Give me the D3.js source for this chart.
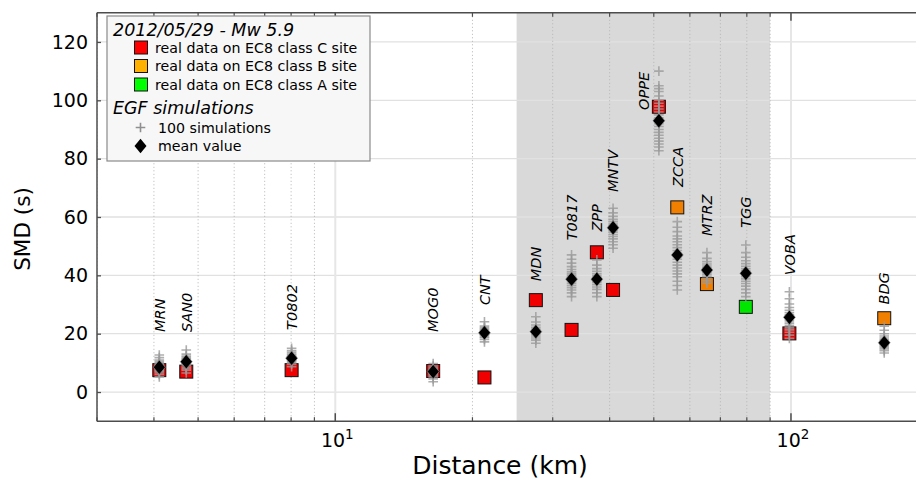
<!DOCTYPE html>
<html><head><meta charset="utf-8">
<script src="https://cdn.jsdelivr.net/npm/d3@7"></script>
<style>
body{margin:0;background:#fff}
svg{display:block}
text{font-family:"DejaVu Sans",sans-serif;fill:#000}
</style>
</head><body>
<svg id="chart" width="916" height="481"></svg>
<script>
// ---------------- data ----------------
const stations   = ["MRN","SAN0","T0802","MOG0","CNT","MDN","T0817","ZPP","MNTV","OPPE","ZCCA","MTRZ","TGG","VOBA","BDG"];
const distances  = [4.11, 4.71, 8.02, 16.4, 21.25, 27.55, 33.0, 37.5, 40.7, 51.3, 56.3, 65.4, 79.6, 99.2, 160.2];
const realSMD    = [7.5, 7.0, 7.5, 7.2, 5.0, 31.5, 21.3, 47.9, 35.0, 97.8, 63.3, 37.0, 29.2, 20.1, 25.3];
const siteClass  = ["C","C","C","C","C","C","C","C","C","C","B","B","A","C","B"];
const meanSim    = [8.5, 10.4, 11.6, 7.0, 20.3, 20.7, 38.7, 38.7, 56.3, 93.0, 47.0, 41.8, 40.7, 25.6, 16.9];
const labelY     = [20.6, 20.6, 21.3, 20.6, 29.8, 38, 52, 55, 68.6, 96.7, 70.3, 53.5, 56.3, 40, 30];
const labelDist  = [4.11, 4.71, 8.02, 16.4, 21.25, 27.55, 33.0, 37.5, 40.7, 47.5, 56.3, 65.4, 79.6, 99.2, 160.2];
const simValues  = [
  [5.2,6,6.5,7,7.3,7.6,8,8.2,8.5,8.8,9,9.3,9.6,10,10.5,11,11.8,12.7],
  [6.5,7.5,8,8.5,9,9.5,9.8,10,10.3,10.6,11,11.4,11.8,12.3,13,14.4],
  [8.7,9.5,10,10.5,10.8,11.2,11.5,11.8,12.1,12.5,13,13.6,14.2,15],
  [3.5,4.5,5.2,5.8,6.2,6.6,7,7.3,7.6,8,8.4,8.9,9.8],
  [17.2,18,18.6,19,19.5,19.9,20.3,20.7,21.1,21.5,22,22.6,24.1],
  [16.7,17.8,18.5,19.2,19.8,20.3,20.7,21.1,21.6,22.2,23,24,25.8],
  [32.7,34,35,35.8,36.5,37.2,37.8,38.3,38.8,39.3,39.9,40.5,41.2,42,43,44.2,45.5,47],
  [32.7,34,35.2,36,36.8,37.5,38.1,38.7,39.3,39.9,40.6,41.4,42.3,43.5,45.3],
  [49.3,50.5,51.5,52.5,53.3,54,54.8,55.5,56.2,56.9,57.6,58.4,59.2,60.2,61.4,63],
  [82.7,84,85,86,87,88,89,90,91,92,93,94,95,96,97,98,99,100,101.5,103,104,105,110],
  [35,36.5,38,39.5,40.5,41.5,42.5,43.5,44.5,45.5,46.5,47.5,48.5,49.5,50.5,51.5,52.5,53.5,55,56.5,58.4],
  [37.3,38.2,39,39.7,40.3,40.9,41.5,42,42.6,43.2,43.9,44.7,45.8,47.8],
  [32.7,34,35.2,36.3,37.2,38,38.8,39.5,40.2,40.9,41.6,42.3,43.1,44,45,46.2,47.8,50.4],
  [18.4,19.5,20.5,21.3,22,22.7,23.4,24,24.6,25.2,25.8,26.5,27.2,28,29,30.2,32,34.4],
  [13.4,14.2,14.8,15.4,15.9,16.4,16.9,17.4,17.9,18.5,19.2,20,21.2,22.6]
];
const shadedRange = [25, 90];
const yTicks      = [0, 20, 40, 60, 80, 100, 120];
const xMajorTicks = [10, 100];
const xMinorTicks = [3,4,5,6,7,8,9,20,30,40,50,60,70,80,90];
const legendTitle = "2012/05/29 - Mw 5.9";
const legendClasses = [
  {cls:"C", label:"real data on EC8 class C site"},
  {cls:"B", label:"real data on EC8 class B site"},
  {cls:"A", label:"real data on EC8 class A site"}
];
const legendSimTitle = "EGF simulations";
const legendSimLabels = ["100 simulations","mean value"];

// ---------------- drawing ----------------
const colorPlot   = {C:"#f00000", B:"#f28000", A:"#00e600"};
const colorLegend = {C:"#ff0000", B:"#ffb000", A:"#00ff00"};

const svg = d3.select("#chart");
const L = 97, R = 918, T = 12.8, B = 421.2;
const x = d3.scaleLog().domain([3, 190]).range([L, R]);
const y = d3.scaleLinear().domain([-10, 130]).range([B, T]);

svg.append("defs").append("clipPath").attr("id","clip")
  .append("rect").attr("x",L).attr("y",T).attr("width",R-L).attr("height",B-T);

const plot = svg.append("g").attr("clip-path","url(#clip)");

// shaded span
plot.append("rect")
  .attr("x", x(shadedRange[0])).attr("y", T)
  .attr("width", x(shadedRange[1]) - x(shadedRange[0]))
  .attr("height", B - T).attr("fill", "#d9d9d9");

// grid
plot.selectAll(".hg").data(yTicks).join("line")
  .attr("x1", L).attr("x2", R).attr("y1", d => y(d)).attr("y2", d => y(d))
  .attr("stroke", "#e1e1e1").attr("stroke-width", 1.3);
plot.selectAll(".vmin").data(xMinorTicks).join("line")
  .attr("x1", d => x(d)).attr("x2", d => x(d)).attr("y1", T).attr("y2", B)
  .attr("stroke", "#b4b4b4").attr("stroke-width", 1).attr("stroke-dasharray", "1,2.5");
plot.selectAll(".vmaj").data(xMajorTicks).join("line")
  .attr("x1", d => x(d)).attr("x2", d => x(d)).attr("y1", T).attr("y2", B)
  .attr("stroke", "#e6e6e6").attr("stroke-width", 2);

// real data squares
const sq = 13;
plot.selectAll(".real").data(stations).join("rect")
  .attr("x", (d,i) => x(distances[i]) - sq/2)
  .attr("y", (d,i) => y(realSMD[i]) - sq/2)
  .attr("width", sq).attr("height", sq)
  .attr("fill", (d,i) => colorPlot[siteClass[i]])
  .attr("stroke", "#111").attr("stroke-width", 1);

// simulation crosses
const crossPts = [];
simValues.forEach((arr, i) => arr.forEach(v => crossPts.push({d: distances[i], v})));
const cs = 4.8;
plot.selectAll(".sim").data(crossPts).join("path")
  .attr("d", p => {
    const cx = x(p.d), cy = y(p.v);
    return `M${cx-cs},${cy}H${cx+cs}M${cx},${cy-cs}V${cy+cs}`;
  })
  .attr("stroke", "#9a9a9a").attr("stroke-width", 1.6).attr("stroke-opacity", 0.8).attr("fill","none");

// mean diamonds
const dw = 6, dh = 7.2;
const diamond = (cx, cy) => `M${cx},${cy-dh}L${cx+dw},${cy}L${cx},${cy+dh}L${cx-dw},${cy}Z`;
plot.selectAll(".mean").data(stations).join("path")
  .attr("d", (d,i) => diamond(x(distances[i]), y(meanSim[i])))
  .attr("fill", "#000").attr("stroke", "#999").attr("stroke-width", 0.6);

// station labels
plot.selectAll(".lab").data(stations).join("text")
  .attr("transform", (d,i) => `translate(${x(labelDist[i])},${y(labelY[i])}) rotate(-90)`)
  .attr("dy", "0.36em")
  .attr("font-size", 14.5).attr("font-style", "italic")
  .text(d => d);

// axes frame
const axisColor = "#4d4d4d";
svg.append("line").attr("x1",L).attr("x2",L).attr("y1",T).attr("y2",B).attr("stroke",axisColor).attr("stroke-width",1.5);
svg.append("line").attr("x1",L).attr("x2",R).attr("y1",B).attr("y2",B).attr("stroke",axisColor).attr("stroke-width",1.5);
svg.append("line").attr("x1",L).attr("x2",R).attr("y1",T).attr("y2",T).attr("stroke",axisColor).attr("stroke-width",1.5);

// y axis
const yAxis = d3.axisLeft(y).tickValues(yTicks).tickSizeInner(-4).tickSizeOuter(0).tickPadding(9);
const gy = svg.append("g").attr("transform", `translate(${L},0)`).call(yAxis);
gy.select(".domain").remove();
gy.selectAll(".tick line").attr("stroke", axisColor).attr("stroke-width", 1.3);
gy.selectAll(".tick text").attr("font-size", 19).attr("font-family", "DejaVu Sans").attr("fill", "#000");

// x ticks (bottom and top)
[[B,-1],[T,1]].forEach(([yy, dir]) => {
  svg.selectAll(null).data(xMajorTicks).join("line")
    .attr("x1", d => x(d)).attr("x2", d => x(d)).attr("y1", yy).attr("y2", yy + dir*8)
    .attr("stroke", axisColor).attr("stroke-width", 1.5);
  svg.selectAll(null).data(xMinorTicks).join("line")
    .attr("x1", d => x(d)).attr("x2", d => x(d)).attr("y1", yy).attr("y2", yy + dir*4)
    .attr("stroke", axisColor).attr("stroke-width", 1.2);
});
const xl = svg.selectAll(".xtl").data(xMajorTicks).join("text")
  .attr("x", d => x(d) + 2).attr("y", 447).attr("text-anchor", "middle").attr("font-size", 19);
xl.append("tspan").text("10");
xl.append("tspan").attr("font-size", 13.5).attr("dy", -8).text(d => Math.round(Math.log10(d)));

// axis titles
svg.append("text").attr("x", 500).attr("y", 474).attr("text-anchor","middle")
  .attr("font-size", 25).text("Distance (km)");
svg.append("text").attr("transform","translate(22.5,229) rotate(-90)").attr("dy","0.36em")
  .attr("text-anchor","middle").attr("font-size", 21.5).text("SMD (s)");

// legend
const lg = svg.append("g");
lg.append("rect").attr("x",107).attr("y",16).attr("width",263).attr("height",145)
  .attr("fill","#f7f7f7").attr("stroke","#8a8a8a").attr("stroke-width",1.2);
lg.append("text").attr("x",113).attr("y",36).attr("font-size",17.5).attr("font-style","italic").text(legendTitle);
legendClasses.forEach((c, i) => {
  const cy = 47.5 + i*18.5;
  lg.append("rect").attr("x",134.5).attr("y",cy-6.5).attr("width",13).attr("height",13)
    .attr("fill", colorLegend[c.cls]).attr("stroke","#111").attr("stroke-width",1);
  lg.append("text").attr("x",155).attr("y",cy+5).attr("font-size",14.2).text(c.label);
});
lg.append("text").attr("x",113).attr("y",114).attr("font-size",17.5).attr("font-style","italic").text(legendSimTitle);
lg.append("path").attr("d", `M${140.5-cs},127.5H${140.5+cs}M140.5,${127.5-cs}V${127.5+cs}`)
  .attr("stroke","#8f8f8f").attr("stroke-width",1.6).attr("fill","none");
lg.append("text").attr("x",158).attr("y",132.5).attr("font-size",14.2).text(legendSimLabels[0]);
lg.append("path").attr("d", diamond(140.5, 146)).attr("fill","#000");
lg.append("text").attr("x",158).attr("y",151).attr("font-size",14.2).text(legendSimLabels[1]);
</script>
</body></html>
